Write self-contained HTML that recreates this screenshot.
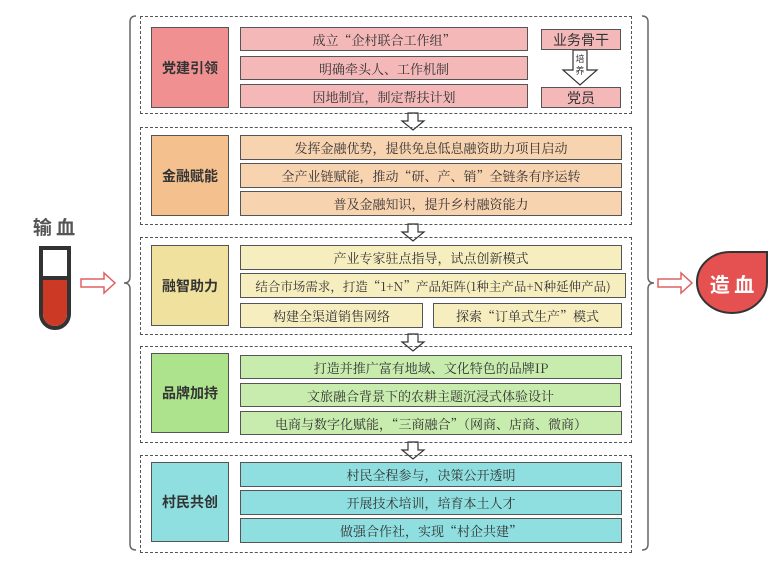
<!DOCTYPE html>
<html><head><meta charset="utf-8"><style>
body{margin:0;width:784px;height:569px;background:#fff;position:relative;font-family:"Noto Serif CJK SC","Liberation Serif",serif;overflow:hidden}
.a{position:absolute;box-sizing:border-box}
.dash{border:1.5px dashed #555}
.lab{border:1.5px solid #555;display:flex;align-items:center;justify-content:center;font-family:"Noto Sans CJK SC",sans-serif;font-weight:bold;font-size:14px;color:#333}
.it{border:1.5px solid #555;display:flex;align-items:center;justify-content:center;font-size:13px;color:#333;white-space:nowrap}
</style></head><body>
<svg class="a" style="left:0;top:0" width="784" height="569">
<path d="M136 16 Q130 16 130 22 L130 277 Q130 283 124 283 Q130 283 130 289 L130 544 Q130 550 136 550" fill="none" stroke="#666" stroke-width="1.5"/>
<path d="M642 16 Q648 16 648 22 L648 277 Q648 283 654 283 Q648 283 648 289 L648 544 Q648 550 642 550" fill="none" stroke="#666" stroke-width="1.5"/>
<path d="M81 279 L104 279 L104 273 L115 283 L104 293 L104 287 L81 287 Z" fill="#fff" stroke="#e06060" stroke-width="1.5"/>
<path d="M658 279 L681 279 L681 273 L692 283 L681 293 L681 287 L658 287 Z" fill="#fff" stroke="#e06060" stroke-width="1.5"/>
<path d="M41 248 L69 248 L69 314 A14 14 0 0 1 41 314 Z" fill="#fff" stroke="#333" stroke-width="4"/>
<path d="M43 280 L67 280 L67 314 A12 12 0 0 1 43 314 Z" fill="#cc3a25"/>
<line x1="41" y1="278" x2="69" y2="278" stroke="#333" stroke-width="4"/>
<path d="M730 252 L767 252 L767 282 A35 31 0 1 1 697 282 A33 30 0 0 1 730 252 Z" fill="#e55050" stroke="#333" stroke-width="2"/>
<text x="732" y="292" font-family="Noto Sans CJK SC,sans-serif" font-weight="bold" font-size="20" fill="#fff" text-anchor="middle">造 血</text>
<text x="54" y="234" font-family="Noto Sans CJK SC,sans-serif" font-weight="bold" font-size="19" fill="#555" text-anchor="middle">输 血</text>
<g fill="#fff" stroke="#333" stroke-width="1.2">
<path d="M408 113 L418 113 L418 121 L424 121 L413 130 L402 121 L408 121 Z"/>
<path d="M408 224 L418 224 L418 232 L424 232 L413 241 L402 232 L408 232 Z"/>
<path d="M408 334 L418 334 L418 342 L424 342 L413 351 L402 342 L408 342 Z"/>
<path d="M408 442 L418 442 L418 450 L424 450 L413 459 L402 450 L408 450 Z"/>
<path d="M573 50 L587 50 L587 70 L597 70 L580 85 L563 70 L573 70 Z"/>
</g>
<text x="580" y="62" font-size="9" text-anchor="middle" fill="#333" font-family="Noto Sans CJK SC,sans-serif">培</text>
<text x="580" y="74" font-size="9" text-anchor="middle" fill="#333" font-family="Noto Sans CJK SC,sans-serif">养</text>
</svg>

<div class="a dash" style="left:140px;top:16px;width:492px;height:98px"></div>
<div class="a dash" style="left:140px;top:127px;width:492px;height:98px"></div>
<div class="a dash" style="left:140px;top:237px;width:492px;height:98px"></div>
<div class="a dash" style="left:140px;top:346px;width:492px;height:97px"></div>
<div class="a dash" style="left:140px;top:455px;width:492px;height:98px"></div>

<div class="a lab" style="left:151px;top:27px;width:78px;height:81px;background:#f09090">党建引领</div>
<div class="a it" style="left:240px;top:27px;width:288px;height:24px;background:#f4b8b8">成立“企村联合工作组”</div>
<div class="a it" style="left:240px;top:56px;width:288px;height:24px;background:#f4b8b8">明确牵头人、工作机制</div>
<div class="a it" style="left:240px;top:84px;width:288px;height:24px;background:#f4b8b8">因地制宜，制定帮扶计划</div>
<div class="a it" style="left:541px;top:29px;width:80px;height:21px;background:#f4b8b8;font-size:14px;font-family:'Noto Sans CJK SC',sans-serif">业务骨干</div>
<div class="a it" style="left:541px;top:87px;width:80px;height:21px;background:#f4b8b8;font-size:14px;font-family:'Noto Sans CJK SC',sans-serif">党员</div>

<div class="a lab" style="left:151px;top:135px;width:78px;height:81px;background:#f4c08e">金融赋能</div>
<div class="a it" style="left:240px;top:135px;width:382px;height:25px;background:#f8d3b0">发挥金融优势，提供免息低息融资助力项目启动</div>
<div class="a it" style="left:240px;top:163px;width:382px;height:25px;background:#f8d3b0">全产业链赋能，推动“研、产、销”全链条有序运转</div>
<div class="a it" style="left:240px;top:191px;width:382px;height:25px;background:#f8d3b0">普及金融知识，提升乡村融资能力</div>

<div class="a lab" style="left:151px;top:245px;width:78px;height:81px;background:#f1e19e">融智助力</div>
<div class="a it" style="left:240px;top:245px;width:382px;height:25px;background:#f7eec0">产业专家驻点指导，试点创新模式</div>
<div class="a it" style="left:240px;top:273px;width:386px;height:25px;background:#f7eec0;font-size:12.5px">结合市场需求，打造“1+N”产品矩阵(1种主产品+N种延伸产品)</div>
<div class="a it" style="left:240px;top:303px;width:183px;height:25px;background:#f7eec0">构建全渠道销售网络</div>
<div class="a it" style="left:433px;top:303px;width:189px;height:25px;background:#f7eec0">探索“订单式生产”模式</div>

<div class="a lab" style="left:151px;top:353px;width:78px;height:80px;background:#ade38d">品牌加持</div>
<div class="a it" style="left:240px;top:355px;width:382px;height:24px;background:#c8ecae">打造并推广富有地域、文化特色的品牌IP</div>
<div class="a it" style="left:240px;top:383px;width:381px;height:24px;background:#c8ecae">文旅融合背景下的农耕主题沉浸式体验设计</div>
<div class="a it" style="left:240px;top:411px;width:382px;height:24px;background:#c8ecae">电商与数字化赋能，“三商融合”（网商、店商、微商）</div>

<div class="a lab" style="left:151px;top:462px;width:78px;height:80px;background:#8fdfe0">村民共创</div>
<div class="a it" style="left:240px;top:462px;width:382px;height:25px;background:#8fdfe0">村民全程参与，决策公开透明</div>
<div class="a it" style="left:240px;top:490px;width:382px;height:25px;background:#8fdfe0">开展技术培训，培育本土人才</div>
<div class="a it" style="left:240px;top:518px;width:382px;height:25px;background:#8fdfe0">做强合作社，实现“村企共建”</div>
</body></html>
